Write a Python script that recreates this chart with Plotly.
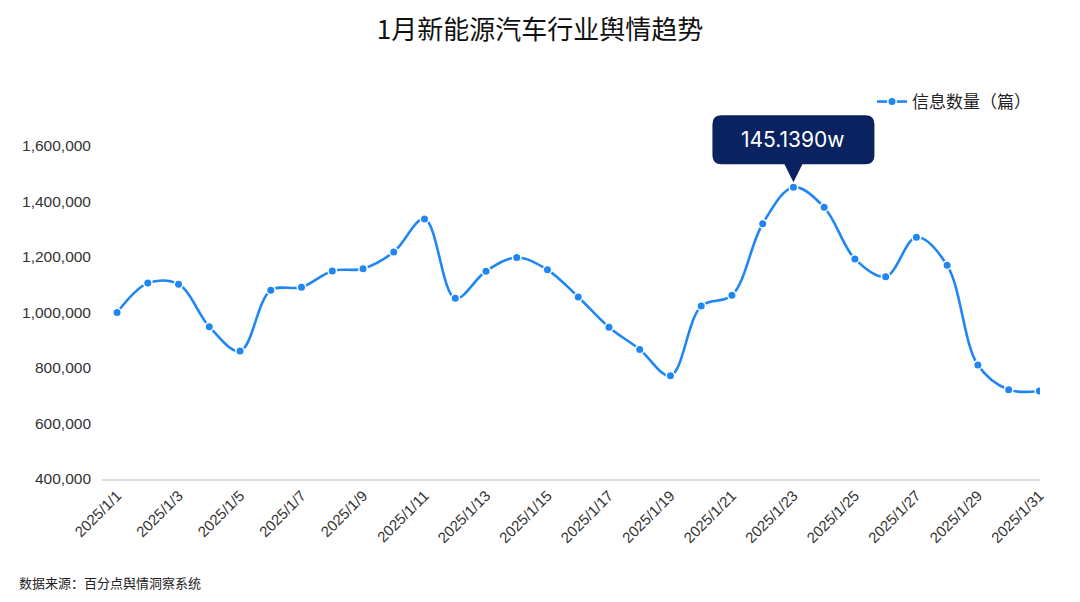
import plotly.graph_objects as go

days = [f"2025/1/{d}" for d in range(1, 32)]
values = [1000000, 1106000, 1102000, 949000, 861000, 1080000, 1091000, 1150000,
          1158000, 1218000, 1337000, 1051000, 1149000, 1198000, 1154000, 1056000,
          947000, 867000, 772000, 1023000, 1062000, 1320000, 1451390, 1379000,
          1193000, 1129000, 1271000, 1170000, 811000, 722000, 717000]
series_name = "信息数量（篇）"
tick_vals = [days[i] for i in range(0, 31, 2)]
y_ticks = [400000, 600000, 800000, 1000000, 1200000, 1400000, 1600000]

peak_idx = max(range(len(values)), key=lambda i: values[i])
peak_label = f"{values[peak_idx] / 10000:.4f}w"

LINE = "#1f87f3"
NAVY = "#0b2260"
FONT = "Liberation Sans, Noto Sans CJK SC, sans-serif"

X_RANGE = [-0.49, 30.02]
Y_RANGE = [400000, 1600000]
ML, MR, MT, MB = 102, 40, 146, 123
PW, PH = 1080 - ML - MR, 602 - MT - MB

fig = go.Figure()
fig.add_trace(go.Scatter(
    x=days, y=values, mode="lines+markers", name=series_name,
    line=dict(color=LINE, width=2.6, shape="spline", smoothing=1.0),
    marker=dict(size=8.5, color=LINE, line=dict(color="white", width=1.5)),
    hoverinfo="x+y",
))

# callout anchored (in paper space, so it is not clipped) at the peak point
px = (peak_idx - X_RANGE[0]) / (X_RANGE[1] - X_RANGE[0])
py = (values[peak_idx] - Y_RANGE[0]) / (Y_RANGE[1] - Y_RANGE[0])
w, h, r = 81, 49, 9
bot, tip, tw = 23, 5, 9
top = bot + h
path = (f"M {-w + r},{top} L {w - r},{top} Q {w},{top} {w},{top - r} "
        f"L {w},{bot + r} Q {w},{bot} {w - r},{bot} "
        f"L {tw},{bot} L 0,{tip} L {-tw},{bot} "
        f"L {-w + r},{bot} Q {-w},{bot} {-w},{bot + r} "
        f"L {-w},{top - r} Q {-w},{top} {-w + r},{top} Z")
fig.add_shape(type="path", xref="paper", yref="paper",
              xsizemode="pixel", ysizemode="pixel",
              xanchor=px, yanchor=py,
              path=path, fillcolor=NAVY, line=dict(width=0), layer="above")
fig.add_annotation(x=px, y=py, xref="paper", yref="paper", text=peak_label,
                   showarrow=False, yshift=bot + h / 2, xanchor="center", yanchor="middle",
                   font=dict(family="Inter, Liberation Sans, sans-serif", size=21, color="white"))

fig.add_annotation(text="数据来源：百分点舆情洞察系统", xref="paper", yref="paper",
                   x=(17 - ML) / PW, y=-(582 - (602 - MB)) / PH, xanchor="left", yanchor="middle",
                   showarrow=False, font=dict(family="Noto Sans CJK SC", size=13, color="#222"))

fig.update_layout(
    width=1080, height=602,
    paper_bgcolor="white", plot_bgcolor="white",
    margin=dict(l=ML, r=MR, t=MT, b=MB, autoexpand=False),
    title=dict(text="1月新能源汽车行业舆情趋势", x=0.5, xanchor="center",
               y=1 - 30 / 602, yanchor="middle",
               font=dict(family="Noto Sans CJK SC", size=26, color="#111")),
    font=dict(family=FONT, size=13, color="#333"),
    showlegend=True,
    legend=dict(x=1 + (1036 - 1040) / PW, xanchor="right", y=1 + (MT - 102) / PH, yanchor="middle",
                font=dict(family="Noto Sans CJK SC", size=17, color="#222"),
                bgcolor="rgba(0,0,0,0)", itemwidth=30),
    xaxis=dict(type="category", range=X_RANGE, tickmode="array",
               tickvals=tick_vals, ticktext=tick_vals, tickangle=-45,
               showgrid=False, zeroline=False, showline=True, automargin=False,
               linecolor="#dddddd", linewidth=2, ticks="",
               tickfont=dict(size=15, color="#333")),
    yaxis=dict(range=Y_RANGE, tickmode="array", tickvals=y_ticks,
               tickformat=",d", showgrid=False, zeroline=False, showline=False,
               ticks="", ticklabelstandoff=10, automargin=False,
               tickfont=dict(size=15.5, color="#333")),
)

fig.write_html("out.html", config={"displayModeBar": False},
               post_script="document.body.style.margin='0';")
